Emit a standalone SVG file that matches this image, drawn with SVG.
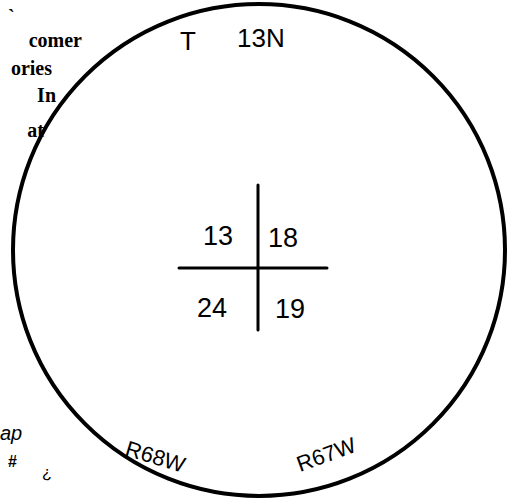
<svg xmlns="http://www.w3.org/2000/svg" width="507" height="500" viewBox="0 0 507 500">
<style>
.hand{font-family:"Liberation Sans","DejaVu Sans",sans-serif;fill:#000}
.print{font-family:"Liberation Serif","Times New Roman",serif;font-weight:bold;fill:#000;font-size:20px}
.ln{stroke:#000;fill:none;stroke-linecap:round}
</style>
<rect width="507" height="500" fill="#fff"/>
<g id="margin-text">
<text class="print" x="8" y="24" font-size="16">`</text>
<text class="print" x="82" y="47" text-anchor="end">comer</text>
<text class="print" x="52" y="75" text-anchor="end">ories</text>
<text class="print" x="56" y="102" text-anchor="end">In</text>
<text class="print" x="44" y="137" text-anchor="end">at</text>
<text class="hand" x="0" y="440" font-size="20" font-style="italic">ap</text>
<text class="hand" x="8" y="467" font-size="16" font-weight="bold">#</text>
<text class="hand" x="42" y="478" font-size="16">¿</text>
</g>
<g id="section-circle">
<circle class="ln" cx="259" cy="250" r="246" stroke-width="4"/>
</g>
<g id="connectors">
<line class="ln" x1="258" y1="185" x2="258" y2="330" stroke-width="3"/>
<line class="ln" x1="179" y1="268" x2="327" y2="268" stroke-width="3"/>
</g>
<g id="labels">
<text class="hand" font-size="26"><tspan x="180" y="50">T</tspan><tspan x="237" y="47">13N</tspan></text>
<text class="hand" x="203" y="245" font-size="27">13</text>
<text class="hand" x="268" y="247" font-size="27">18</text>
<text class="hand" x="197" y="317" font-size="27">24</text>
<text class="hand" x="275" y="318" font-size="27">19</text>
<text class="hand" font-size="22" transform="translate(124,455) rotate(17)">R68W</text>
<text class="hand" font-size="22" transform="translate(300,472) rotate(-20)">R67W</text>
</g>
</svg>
